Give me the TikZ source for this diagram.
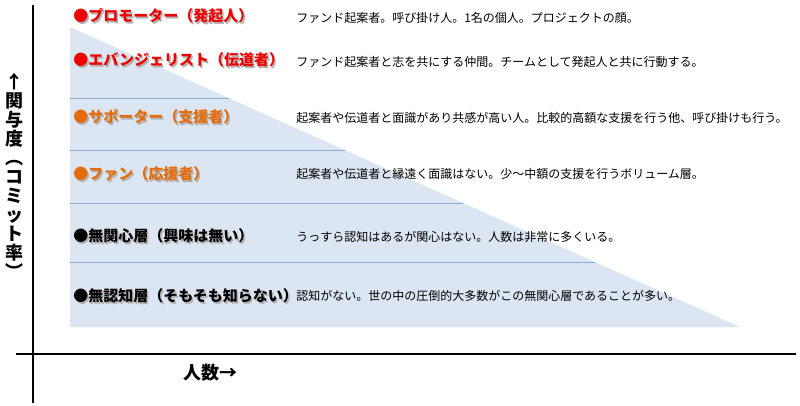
\documentclass[tikz,border=0pt]{standalone}
\usepackage{fontspec}
\setmainfont{Noto Sans CJK JP}
\definecolor{lblred}{RGB}{238,0,0}
\definecolor{lblorange}{RGB}{228,108,10}
\definecolor{trifill}{RGB}{220,230,242}
\definecolor{bandline}{RGB}{140,170,210}
\begin{document}
\begin{tikzpicture}[x=0.75pt,y=-0.75pt,
  lbl/.style={anchor=west,inner sep=0pt,font=\fontsize{11.25}{13}\selectfont\bfseries},
  shd/.style={lbl,text=black!30},
  desc/.style={anchor=west,inner sep=0pt,font=\fontsize{9}{11}\selectfont},
  axis/.style={line width=2.2pt},
  band/.style={draw=bandline,line width=0.7pt},
  axlbl/.style={inner sep=0pt,font=\fontsize{13.5}{14.2}\selectfont\bfseries}]
\useasboundingbox (0,0) rectangle (800,406);
% triangle
\coordinate (tA) at (70,27);
\coordinate (tB) at (70,327);
\coordinate (tC) at (740,327);
\fill[trifill] (tA) -- (tB) -- (tC) -- cycle;
% band lines
\foreach \yy [count=\i] in {98,150,203,262}{
  \coordinate (bl\i) at (70,\yy);
  \coordinate (br\i) at ({70+(\yy-27)*2.23333},\yy);
  \draw[band] (bl\i) -- (br\i);
}
% axes
\coordinate (yTop) at (33,5);
\coordinate (yBot) at (33,403);
\coordinate (xL) at (16,354);
\coordinate (xR) at (796,354);
\draw[axis] (yTop) -- (yBot);
\draw[axis] (xL) -- (xR);
% axis labels
\node[axlbl,align=center] (ylab) at (15,176) {↑\\関\\与\\度\\︵\\コ\\ミ\\ッ\\ト\\率\\︶};
\node[axlbl] (xlab) at (210,373) {人数→};
% labels with shadow
\node[shd] (s1) at (74.5,17.5) {●プロモーター（発起人）};
\node[lbl,text=lblred] (l1) at (73,16) {●プロモーター（発起人）};
\node[shd] (s2) at (74.5,61.5) {●エバンジェリスト（伝道者）};
\node[lbl,text=lblred] (l2) at (73,60) {●エバンジェリスト（伝道者）};
\node[shd] (s3) at (74.5,118.5) {●サポーター（支援者）};
\node[lbl,text=lblorange] (l3) at (73,117) {●サポーター（支援者）};
\node[shd] (s4) at (74.5,175.5) {●ファン（応援者）};
\node[lbl,text=lblorange] (l4) at (73,174) {●ファン（応援者）};
\node[shd] (s5) at (74.5,237.5) {●無関心層（興味は無い）};
\node[lbl,text=black] (l5) at (73,236) {●無関心層（興味は無い）};
\node[shd] (s6) at (74.5,297.5) {●無認知層（そもそも知らない）};
\node[lbl,text=black] (l6) at (73,296) {●無認知層（そもそも知らない）};
% descriptions
\node[desc] (d1) at (296,18) {ファンド起案者。呼び掛け人。1名の個人。プロジェクトの顔。};
\node[desc] (d2) at (296,62) {ファンド起案者と志を共にする仲間。チームとして発起人と共に行動する。};
\node[desc] (d3) at (296,118) {起案者や伝道者と面識があり共感が高い人。比較的高額な支援を行う他、呼び掛けも行う。};
\node[desc] (d4) at (296,174) {起案者や伝道者と縁遠く面識はない。少～中額の支援を行うボリューム層。};
\node[desc] (d5) at (296,237) {うっすら認知はあるが関心はない。人数は非常に多くいる。};
\node[desc] (d6) at (296,296) {認知がない。世の中の圧倒的大多数がこの無関心層であることが多い。};
\end{tikzpicture}
\end{document}
